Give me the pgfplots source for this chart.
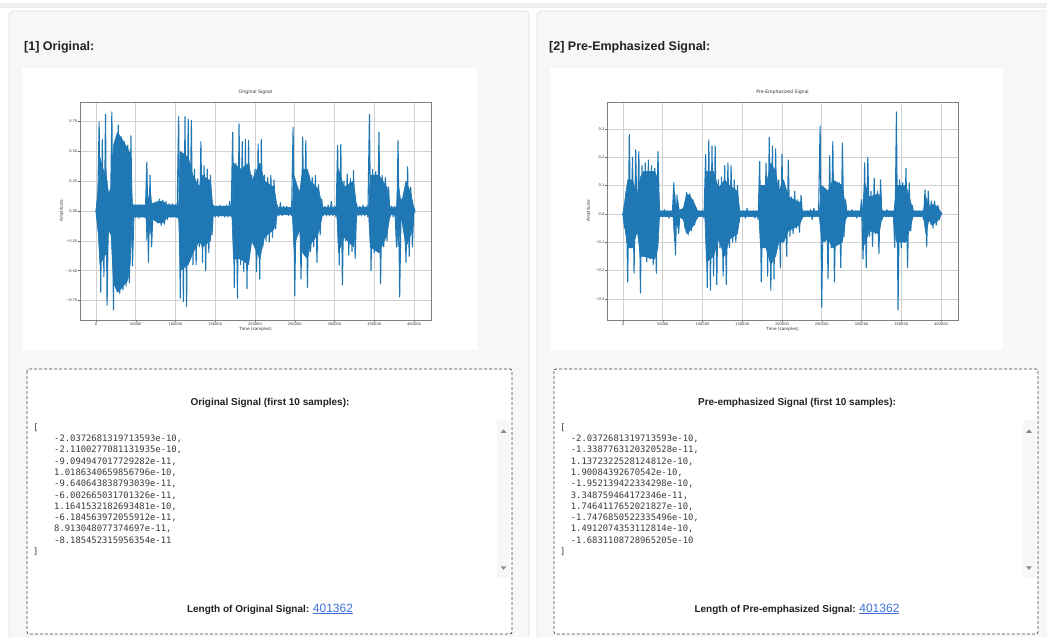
\documentclass[border=0pt]{standalone}
\usepackage{pgfplots}
\usepackage{pgfplotstable}
\pgfplotsset{compat=1.18}
\usepackage{fontspec}
\setmainfont{Liberation Sans}
\newfontfamily\djv{DejaVu Sans}
\newfontfamily\mono{DejaVu Sans Mono}
\definecolor{mplblue}{HTML}{1F77B4}
\definecolor{panelbg}{HTML}{F7F7F7}
\definecolor{panelborder}{HTML}{E0E0E0}
\definecolor{topband}{HTML}{EEEEEE}
\definecolor{linkblue}{HTML}{3C6FD9}
\definecolor{codegray}{HTML}{3A3A3A}
\definecolor{headgray}{HTML}{222222}

% ---- Original signal: sample peaks (alternating) ----
\pgfplotstableread[row sep=\\]{
x y\\
0 0.01\\ 2000 -0.02\\ 4000 0.745\\ 6000 -0.68\\ 8000 0.60\\ 10000 -0.55\\ 12000 0.81\\ 14000 -0.79\\ 16000 0.15\\ 18000 -0.18\\
20000 0.83\\ 22000 -0.83\\ 24000 0.56\\ 26000 -0.62\\ 28000 0.72\\ 30000 -0.69\\ 32000 0.62\\ 34000 -0.66\\ 36000 0.58\\ 38000 -0.63\\
40000 0.55\\ 42000 -0.60\\ 44000 0.63\\ 46000 -0.46\\ 48000 0.05\\ 50000 -0.05\\ 52000 0.04\\ 54000 -0.06\\ 56000 0.05\\ 58000 -0.05\\
60000 0.04\\ 62000 -0.06\\ 64000 0.41\\ 66000 -0.43\\ 68000 0.30\\ 70000 -0.30\\ 72000 0.05\\ 74000 -0.06\\ 76000 0.06\\ 78000 -0.10\\
80000 0.10\\ 82000 -0.12\\ 84000 0.09\\ 86000 -0.11\\ 88000 0.08\\ 90000 -0.07\\ 92000 0.06\\ 94000 -0.05\\ 96000 0.06\\ 98000 -0.05\\
100000 0.05\\ 102000 -0.06\\ 104000 0.79\\ 106000 -0.73\\ 108000 0.45\\ 110000 -0.76\\ 112000 0.79\\ 114000 -0.80\\ 116000 0.77\\ 118000 -0.40\\
120000 0.76\\ 122000 -0.45\\ 124000 0.35\\ 126000 -0.45\\ 128000 0.27\\ 130000 -0.30\\ 132000 0.58\\ 134000 -0.43\\ 136000 0.38\\ 138000 -0.50\\
140000 0.35\\ 142000 -0.35\\ 144000 0.30\\ 146000 -0.20\\ 148000 0.05\\ 150000 -0.05\\ 152000 0.04\\ 154000 -0.05\\ 156000 0.05\\ 158000 -0.04\\
160000 0.04\\ 162000 -0.05\\ 164000 0.05\\ 166000 -0.05\\ 168000 0.08\\ 170000 -0.05\\ 172000 0.66\\ 174000 -0.64\\ 176000 0.40\\ 178000 -0.73\\
180000 0.73\\ 182000 -0.45\\ 184000 0.58\\ 186000 -0.51\\ 188000 0.60\\ 190000 -0.65\\ 192000 0.59\\ 194000 -0.30\\ 196000 0.30\\ 198000 -0.28\\
200000 0.35\\ 202000 -0.51\\ 204000 0.56\\ 206000 -0.57\\ 208000 0.60\\ 210000 -0.30\\ 212000 0.30\\ 214000 -0.25\\ 216000 0.28\\ 218000 -0.26\\
220000 0.30\\ 222000 -0.22\\ 224000 0.26\\ 226000 -0.15\\ 228000 0.05\\ 230000 -0.04\\ 232000 0.07\\ 234000 -0.04\\ 236000 0.04\\ 238000 -0.03\\
240000 0.04\\ 242000 -0.04\\ 244000 0.03\\ 246000 -0.04\\ 248000 0.70\\ 250000 -0.71\\ 252000 0.18\\ 254000 -0.20\\ 256000 0.15\\ 258000 -0.57\\
260000 0.62\\ 262000 -0.30\\ 264000 0.59\\ 266000 -0.64\\ 268000 0.30\\ 270000 -0.34\\ 272000 0.28\\ 274000 -0.30\\ 276000 0.30\\ 278000 -0.43\\
280000 0.22\\ 282000 -0.20\\ 284000 0.10\\ 286000 -0.04\\ 288000 0.04\\ 290000 -0.04\\ 292000 0.05\\ 294000 -0.04\\ 296000 0.08\\ 298000 -0.04\\
300000 0.04\\ 302000 -0.05\\ 304000 0.55\\ 306000 -0.45\\ 308000 0.56\\ 310000 -0.62\\ 312000 0.25\\ 314000 -0.25\\ 316000 0.31\\ 318000 -0.37\\
320000 0.27\\ 322000 -0.34\\ 324000 0.34\\ 326000 -0.40\\ 328000 0.06\\ 330000 -0.04\\ 332000 0.04\\ 334000 -0.04\\ 336000 0.05\\ 338000 -0.04\\
340000 0.04\\ 342000 -0.05\\ 344000 0.81\\ 346000 -0.50\\ 348000 0.35\\ 350000 -0.35\\ 352000 0.33\\ 354000 -0.30\\ 356000 0.66\\ 358000 -0.61\\
360000 0.30\\ 362000 -0.30\\ 364000 0.28\\ 366000 -0.25\\ 368000 0.20\\ 370000 -0.05\\ 372000 0.04\\ 374000 -0.05\\ 376000 0.04\\ 378000 -0.30\\
380000 0.59\\ 382000 -0.72\\ 384000 0.10\\ 386000 -0.08\\ 388000 0.08\\ 390000 -0.43\\ 392000 0.37\\ 394000 -0.38\\ 396000 0.20\\ 398000 -0.30\\
400000 0.03\\ 401362 -0.01\\
}\origdata

% ---- Original signal: dense body envelope (upper left->right, lower right->left) ----
\pgfplotstableread[row sep=\\]{
x y\\
0 0.01\\ 3000 0.2\\ 5000 0.45\\ 9000 0.35\\ 13000 0.3\\ 16000 0.14\\ 19000 0.2\\ 22000 0.55\\ 27000 0.66\\ 33000 0.6\\ 40000 0.52\\ 43000 0.48\\
46000 0.05\\ 63000 0.05\\ 64000 0.25\\ 66000 0.06\\ 68000 0.2\\ 70000 0.06\\ 78000 0.08\\ 84000 0.08\\ 90000 0.05\\ 104000 0.05\\
106000 0.5\\ 116000 0.45\\ 122000 0.3\\ 130000 0.2\\ 134000 0.3\\ 144000 0.25\\ 147000 0.04\\ 171000 0.04\\ 173000 0.4\\ 182000 0.35\\
192000 0.4\\ 196000 0.25\\ 206000 0.4\\ 212000 0.25\\ 224000 0.2\\ 228000 0.03\\ 247000 0.03\\ 249000 0.3\\ 256000 0.15\\ 260000 0.35\\
266000 0.35\\ 270000 0.25\\ 280000 0.18\\ 285000 0.03\\ 303000 0.03\\ 305000 0.35\\ 312000 0.2\\ 324000 0.25\\ 328000 0.03\\ 343000 0.03\\
345000 0.3\\ 356000 0.3\\ 366000 0.2\\ 370000 0.03\\ 378000 0.03\\ 380000 0.25\\ 384000 0.05\\ 390000 0.25\\ 396000 0.15\\ 400000 0.02\\
400000 -0.02\\ 396000 -0.2\\ 390000 -0.3\\ 384000 -0.05\\ 380000 -0.3\\ 378000 -0.03\\ 370000 -0.03\\ 366000 -0.2\\ 356000 -0.35\\ 345000 -0.3\\
343000 -0.03\\ 328000 -0.03\\ 324000 -0.3\\ 312000 -0.22\\ 305000 -0.35\\ 303000 -0.03\\ 285000 -0.03\\ 280000 -0.18\\ 270000 -0.28\\ 266000 -0.4\\
260000 -0.35\\ 256000 -0.15\\ 249000 -0.3\\ 247000 -0.03\\ 228000 -0.03\\ 224000 -0.15\\ 212000 -0.22\\ 206000 -0.4\\ 196000 -0.25\\ 192000 -0.45\\
182000 -0.4\\ 173000 -0.4\\ 171000 -0.04\\ 147000 -0.04\\ 144000 -0.25\\ 134000 -0.3\\ 130000 -0.25\\ 122000 -0.35\\ 116000 -0.45\\ 106000 -0.5\\
104000 -0.05\\ 90000 -0.05\\ 84000 -0.10\\ 78000 -0.10\\ 70000 -0.06\\ 68000 -0.2\\ 66000 -0.06\\ 64000 -0.25\\ 63000 -0.05\\ 46000 -0.05\\
43000 -0.45\\ 40000 -0.58\\ 33000 -0.64\\ 27000 -0.68\\ 22000 -0.6\\ 19000 -0.2\\ 16000 -0.16\\ 13000 -0.35\\ 9000 -0.4\\ 5000 -0.45\\ 3000 -0.2\\ 0 -0.01\\
}\origenv

% ---- Pre-emphasized signal: sample peaks (alternating) ----
\pgfplotstableread[row sep=\\]{
x y\\
0 0.003\\ 2000 -0.05\\ 4000 0.08\\ 6000 -0.24\\ 8000 0.28\\ 10000 -0.12\\ 12000 0.20\\ 14000 -0.21\\ 16000 0.226\\ 18000 -0.06\\
20000 0.22\\ 22000 -0.28\\ 24000 0.17\\ 26000 -0.15\\ 28000 0.18\\ 30000 -0.17\\ 32000 0.19\\ 34000 -0.16\\ 36000 0.17\\ 38000 -0.18\\
40000 0.16\\ 42000 -0.21\\ 44000 0.22\\ 46000 -0.01\\ 48000 0.01\\ 50000 -0.01\\ 52000 0.015\\ 54000 -0.01\\ 56000 0.01\\ 58000 -0.015\\
60000 0.01\\ 62000 -0.01\\ 64000 0.11\\ 66000 -0.145\\ 68000 0.067\\ 70000 -0.07\\ 72000 0.015\\ 74000 -0.015\\ 76000 0.02\\ 78000 -0.05\\
80000 0.075\\ 82000 -0.075\\ 84000 0.07\\ 86000 -0.06\\ 88000 0.05\\ 90000 -0.04\\ 92000 0.02\\ 94000 -0.015\\ 96000 0.01\\ 98000 -0.01\\
100000 0.01\\ 102000 -0.015\\ 104000 0.21\\ 106000 -0.26\\ 108000 0.26\\ 110000 -0.27\\ 112000 0.24\\ 114000 -0.22\\ 116000 0.24\\ 118000 -0.25\\
120000 0.12\\ 122000 -0.12\\ 124000 0.13\\ 126000 -0.22\\ 128000 0.17\\ 130000 -0.25\\ 132000 0.18\\ 134000 -0.12\\ 136000 0.17\\ 138000 -0.10\\
140000 0.12\\ 142000 -0.10\\ 144000 0.10\\ 146000 -0.03\\ 148000 0.01\\ 150000 -0.01\\ 152000 0.01\\ 154000 -0.015\\ 156000 0.02\\ 158000 -0.01\\
160000 0.01\\ 162000 -0.01\\ 164000 0.01\\ 166000 -0.015\\ 168000 0.01\\ 170000 -0.02\\ 172000 0.185\\ 174000 -0.24\\ 176000 0.10\\ 178000 -0.10\\
180000 0.18\\ 182000 -0.22\\ 184000 0.27\\ 186000 -0.27\\ 188000 0.24\\ 190000 -0.23\\ 192000 0.23\\ 194000 -0.10\\ 196000 0.12\\ 198000 -0.19\\
200000 0.21\\ 202000 -0.10\\ 204000 0.08\\ 206000 -0.15\\ 208000 0.19\\ 210000 -0.08\\ 212000 0.06\\ 214000 -0.07\\ 216000 0.08\\ 218000 -0.05\\
220000 0.05\\ 222000 -0.065\\ 224000 0.065\\ 226000 -0.015\\ 228000 0.01\\ 230000 -0.01\\ 232000 0.01\\ 234000 -0.01\\ 236000 0.015\\ 238000 -0.02\\
240000 0.02\\ 242000 -0.01\\ 244000 0.01\\ 246000 -0.01\\ 248000 0.31\\ 250000 -0.33\\ 252000 0.09\\ 254000 -0.10\\ 256000 0.08\\ 258000 -0.23\\
260000 0.205\\ 262000 -0.12\\ 264000 0.255\\ 266000 -0.24\\ 268000 0.10\\ 270000 -0.10\\ 272000 0.11\\ 274000 -0.19\\ 276000 0.25\\ 278000 -0.08\\
280000 0.05\\ 282000 -0.01\\ 284000 0.01\\ 286000 -0.01\\ 288000 0.015\\ 290000 -0.01\\ 292000 0.01\\ 294000 -0.015\\ 296000 0.01\\ 298000 -0.01\\
300000 0.05\\ 302000 -0.16\\ 304000 0.18\\ 306000 -0.19\\ 308000 0.20\\ 310000 -0.08\\ 312000 0.08\\ 314000 -0.115\\ 316000 0.126\\ 318000 -0.07\\
320000 0.08\\ 322000 -0.14\\ 324000 0.12\\ 326000 -0.02\\ 328000 0.01\\ 330000 -0.01\\ 332000 0.015\\ 334000 -0.01\\ 336000 0.01\\ 338000 -0.01\\
340000 0.01\\ 342000 -0.12\\ 344000 0.36\\ 346000 -0.34\\ 348000 0.12\\ 350000 -0.12\\ 352000 0.11\\ 354000 -0.10\\ 356000 0.16\\ 358000 -0.19\\
360000 0.11\\ 362000 -0.06\\ 364000 0.03\\ 366000 -0.01\\ 368000 0.01\\ 370000 -0.01\\ 372000 0.01\\ 374000 -0.01\\ 376000 0.01\\ 378000 -0.02\\
380000 0.085\\ 382000 -0.115\\ 384000 0.08\\ 386000 -0.02\\ 388000 0.045\\ 390000 -0.05\\ 392000 0.045\\ 394000 -0.04\\ 396000 0.03\\ 398000 -0.02\\
400000 0.005\\ 401362 -0.002\\
}\preemdata

% ---- Pre-emphasized signal: dense body envelope ----
\pgfplotstableread[row sep=\\]{
x y\\
0 0.003\\ 3000 0.06\\ 6000 0.12\\ 12000 0.12\\ 18000 0.06\\ 22000 0.13\\ 26000 0.15\\ 40000 0.15\\ 44000 0.12\\ 46000 0.01\\
63000 0.01\\ 65000 0.08\\ 67000 0.01\\ 69000 0.05\\ 71000 0.01\\ 76000 0.02\\ 80000 0.07\\ 84000 0.065\\ 90000 0.035\\ 94000 0.01\\
103000 0.01\\ 105000 0.15\\ 114000 0.15\\ 120000 0.09\\ 128000 0.12\\ 134000 0.1\\ 144000 0.08\\ 147000 0.01\\ 171000 0.01\\ 173000 0.1\\
180000 0.1\\ 186000 0.18\\ 192000 0.15\\ 196000 0.08\\ 202000 0.12\\ 208000 0.06\\ 222000 0.04\\ 226000 0.01\\ 247000 0.01\\ 250000 0.1\\
258000 0.08\\ 264000 0.12\\ 276000 0.1\\ 280000 0.02\\ 282000 0.01\\ 301000 0.01\\ 304000 0.11\\ 310000 0.06\\ 322000 0.07\\ 326000 0.01\\
341000 0.01\\ 344000 0.1\\ 356000 0.1\\ 362000 0.04\\ 365000 0.01\\ 378000 0.01\\ 381000 0.06\\ 385000 0.02\\ 388000 0.035\\ 396000 0.025\\ 400000 0.004\\
400000 -0.004\\ 396000 -0.025\\ 388000 -0.04\\ 385000 -0.02\\ 381000 -0.07\\ 378000 -0.01\\ 365000 -0.01\\ 362000 -0.04\\ 356000 -0.1\\ 344000 -0.1\\
341000 -0.01\\ 326000 -0.01\\ 322000 -0.07\\ 310000 -0.06\\ 304000 -0.11\\ 301000 -0.01\\ 282000 -0.01\\ 280000 -0.02\\ 276000 -0.1\\ 264000 -0.12\\
258000 -0.09\\ 250000 -0.1\\ 247000 -0.01\\ 226000 -0.01\\ 222000 -0.04\\ 208000 -0.06\\ 202000 -0.1\\ 196000 -0.1\\ 192000 -0.15\\ 186000 -0.18\\
180000 -0.12\\ 173000 -0.12\\ 171000 -0.01\\ 147000 -0.01\\ 144000 -0.07\\ 134000 -0.09\\ 128000 -0.15\\ 120000 -0.09\\ 114000 -0.15\\ 105000 -0.17\\
103000 -0.01\\ 94000 -0.01\\ 90000 -0.035\\ 84000 -0.06\\ 80000 -0.07\\ 76000 -0.02\\ 71000 -0.01\\ 69000 -0.05\\ 67000 -0.01\\ 65000 -0.1\\
63000 -0.01\\ 46000 -0.01\\ 44000 -0.12\\ 40000 -0.16\\ 26000 -0.15\\ 22000 -0.15\\ 18000 -0.06\\ 12000 -0.12\\ 6000 -0.12\\ 3000 -0.06\\ 0 -0.003\\
}\preemenv

\pgfplotsset{
  sigax/.style={
    scale only axis, width=351pt, height=218pt, anchor=south west,
    xmin=-20068, xmax=421430,
    scaled x ticks=false, scaled y ticks=false,
    xtick={0,50000,100000,150000,200000,250000,300000,350000,400000},
    xticklabels={0,50000,100000,150000,200000,250000,300000,350000,400000},
    xtick pos=lower, ytick pos=left,
    grid=major, major grid style={draw=black!18, line width=0.5pt},
    axis line style={draw=black!50, line width=0.5pt},
    tick style={draw=black!60, line width=0.4pt}, tick align=outside, major tick length=1.6pt,
    ticklabel style={font=\djv\fontsize{3.6}{4}\selectfont, text=black!80, inner sep=0.8pt},
    label style={font=\djv\fontsize{4.2}{5}\selectfont, text=black!80},
    title style={font=\djv\fontsize{4.6}{5}\selectfont, text=black!80, at={(axis description cs:0.5,1)}, anchor=center, yshift=4pt, inner sep=0pt},
    xlabel={Time (samples)}, ylabel={Amplitude},
    xlabel style={at={(axis description cs:0.5,0)}, anchor=center, yshift=-9.5pt, inner sep=0pt},
    ylabel style={at={(axis description cs:-0.052,0.5)}, anchor=center, inner sep=0pt},
    clip=true,
  }
}

\newcommand{\cl}[3]{\node[anchor=base west, inner sep=0pt, font=\mono\fontsize{8.85}{10}\selectfont, text=codegray] at (#1pt,-#2pt) {#3};}

\begin{document}
\begin{tikzpicture}
\useasboundingbox (0pt,0pt) rectangle (1047pt,-637pt);
\clip (0pt,0pt) rectangle (1047pt,-637pt);
\fill[white] (0pt,0pt) rectangle (1047pt,-637pt);
\fill[topband] (0pt,-3pt) rectangle (1047pt,-8pt);
% panels
\filldraw[fill=panelbg, draw=panelborder, line width=0.8pt, rounded corners=4pt] (9pt,-11pt) rectangle (529pt,-660pt);
\filldraw[fill=panelbg, draw=panelborder, line width=0.8pt, rounded corners=4pt] (537pt,-11pt) rectangle (1070pt,-660pt);
% headings
\node[anchor=base west, inner sep=0pt, font=\bfseries\fontsize{12.5}{14}\selectfont, text=headgray] at (24pt,-50.5pt) {[1] Original:};
\node[anchor=base west, inner sep=0pt, font=\bfseries\fontsize{12.5}{14}\selectfont, text=headgray] at (549pt,-50.5pt) {[2] Pre-Emphasized Signal:};
% plot figure backgrounds
\fill[white] (22pt,-68pt) rectangle (477pt,-350pt);
\fill[white] (550pt,-68pt) rectangle (1003pt,-350pt);

\begin{axis}[sigax, at={(80pt,-320pt)},
  ymin=-0.913, ymax=0.913,
  ytick={-0.75,-0.5,-0.25,0,0.25,0.5,0.75},
  yticklabels={−0.75,−0.50,−0.25,0.00,0.25,0.50,0.75},
  title={Original Signal}]
  \addplot[fill=mplblue, draw=mplblue, line width=0.6pt, line join=round] table[x=x,y=y]{\origenv} -- cycle;
  \addplot[mplblue, line width=1.1pt, line join=round] table[x=x,y=y]{\origdata};
\end{axis}

\begin{axis}[sigax, at={(607pt,-320pt)},
  ymin=-0.375, ymax=0.395,
  ytick={-0.3,-0.2,-0.1,0,0.1,0.2,0.3},
  yticklabels={−0.3,−0.2,−0.1,0.0,0.1,0.2,0.3},
  title={Pre-Emphasized Signal}]
  \addplot[fill=mplblue, draw=mplblue, line width=0.6pt, line join=round] table[x=x,y=y]{\preemenv} -- cycle;
  \addplot[mplblue, line width=1.1pt, line join=round] table[x=x,y=y]{\preemdata};
\end{axis}

% text boxes
\filldraw[fill=white, draw=black!72, line width=0.8pt, dash pattern=on 3pt off 2pt, rounded corners=2pt] (27pt,-369pt) rectangle (512pt,-634pt);
\filldraw[fill=white, draw=black!72, line width=0.8pt, dash pattern=on 3pt off 2pt, rounded corners=2pt] (554pt,-369pt) rectangle (1038pt,-634pt);
% scroll tracks
\fill[black!3] (497pt,-420pt) rectangle (510pt,-578pt);
\fill[black!3] (1023pt,-420pt) rectangle (1036pt,-578pt);
\fill[black!45] (500.5pt,-432.8pt) -- (506.5pt,-432.8pt) -- (503.5pt,-429.3pt) -- cycle;
\fill[black!45] (500.5pt,-566.3pt) -- (506.5pt,-566.3pt) -- (503.5pt,-569.8pt) -- cycle;
\fill[black!45] (1026pt,-432.8pt) -- (1032pt,-432.8pt) -- (1029pt,-429.3pt) -- cycle;
\fill[black!45] (1026pt,-566.3pt) -- (1032pt,-566.3pt) -- (1029pt,-569.8pt) -- cycle;
% box titles
\node[inner sep=0pt, font=\bfseries\fontsize{10}{12}\selectfont, text=headgray] at (270pt,-403pt) {Original Signal (first 10 samples):};
\node[inner sep=0pt, font=\bfseries\fontsize{10}{12}\selectfont, text=headgray] at (797pt,-403pt) {Pre-emphasized Signal (first 10 samples):};
% left code
\cl{33}{430.2}{[}
\cl{54}{441.5}{-2.0372681319713593e-10,}
\cl{54}{452.8}{-2.1100277081131935e-10,}
\cl{54}{464.1}{-9.094947017729282e-11,}
\cl{54}{475.4}{1.0186340659856796e-10,}
\cl{54}{486.7}{-9.640643838793039e-11,}
\cl{54}{498.0}{-6.002665031701326e-11,}
\cl{54}{509.3}{1.1641532182693481e-10,}
\cl{54}{520.6}{-6.184563972055912e-11,}
\cl{54}{531.9}{8.913048077374697e-11,}
\cl{54}{543.2}{-8.185452315956354e-11}
\cl{33}{554.5}{]}
% right code
\cl{560}{430.2}{[}
\cl{570.7}{441.5}{-2.0372681319713593e-10,}
\cl{570.7}{452.8}{-1.3387763120320528e-11,}
\cl{570.7}{464.1}{1.1372322528124812e-10,}
\cl{570.7}{475.4}{1.90084392670542e-10,}
\cl{570.7}{486.7}{-1.952139422334298e-10,}
\cl{570.7}{498.0}{3.348759464172346e-11,}
\cl{570.7}{509.3}{1.7464117652021827e-10,}
\cl{570.7}{520.6}{-1.7476850522335496e-10,}
\cl{570.7}{531.9}{1.4912074353112814e-10,}
\cl{570.7}{543.2}{-1.6831108728965205e-10}
\cl{560}{554.5}{]}
% length lines
\node[anchor=base, inner sep=0pt, text=headgray] at (270pt,-612pt) {{\bfseries\fontsize{10}{12}\selectfont Length of Original Signal: }{\color{linkblue}\fontsize{12}{12}\selectfont\underline{401362}}};
\node[anchor=base, inner sep=0pt, text=headgray] at (797pt,-612pt) {{\bfseries\fontsize{10}{12}\selectfont Length of Pre-emphasized Signal: }{\color{linkblue}\fontsize{12}{12}\selectfont\underline{401362}}};
\end{tikzpicture}
\end{document}
